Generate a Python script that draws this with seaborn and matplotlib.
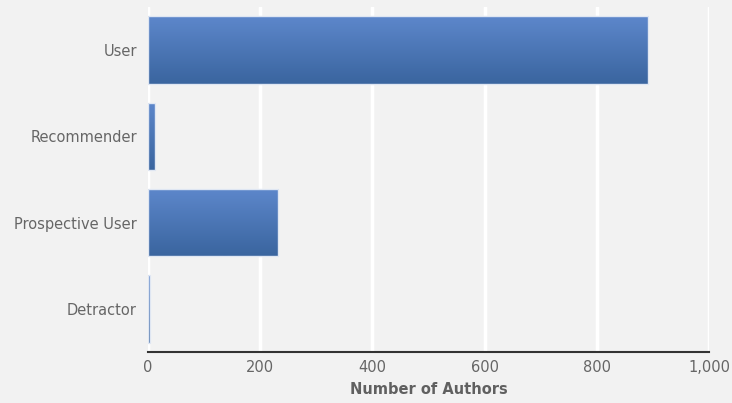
import numpy as np
import pandas as pd
import seaborn as sns
import matplotlib.pyplot as plt
from matplotlib.ticker import FuncFormatter
from matplotlib.colors import LinearSegmentedColormap

# values
categories = ["User", "Recommender", "Prospective User", "Detractor"]
authors = [892, 12, 232, 3]

df = pd.DataFrame({"category": categories, "authors": authors})

sns.set_style("whitegrid")
plt.rcParams['font.family'] = ['DejaVu Sans']

fig = plt.figure(figsize=(7.32, 4.03), dpi=100, facecolor="#f2f2f2")
ax = fig.add_axes([148 / 732, 1 - 352 / 403, (709 - 148) / 732, (352 - 7) / 403])
ax.set_facecolor("#f2f2f2")

sns.barplot(data=df, x="authors", y="category", orient="h", color="#4a74b4",
            width=0.78, edgecolor="white", linewidth=1, ax=ax)

# vertical gradient on each bar, clipped to the bar shape
grad = LinearSegmentedColormap.from_list("bar", ["#5d87cb", "#3a659f"])
for p in ax.patches:
    x0, y0 = p.get_x(), p.get_y()
    w, h = p.get_width(), p.get_height()
    im = ax.imshow(np.linspace(0, 1, 64).reshape(-1, 1), cmap=grad, aspect="auto",
                   extent=[x0, x0 + w, y0 + h, y0], origin="upper", zorder=p.get_zorder() + 0.1)
    im.set_clip_path(p)
    ax.add_patch(plt.Rectangle((x0, y0), w, h, fill=False, edgecolor="#dfe6f2",
                               linewidth=1, zorder=p.get_zorder() + 0.2))

ax.set_xlim(0, 1000)
ax.set_ylim(3.5, -0.5)
ax.set_xticks([0, 200, 400, 600, 800, 1000])
ax.xaxis.set_major_formatter(FuncFormatter(lambda v, _: f"{int(v):,}"))
ax.grid(axis="x", color="white", linewidth=2.5)
ax.grid(axis="y", visible=False)
ax.set_axisbelow(True)
for s in ["top", "right", "left"]:
    ax.spines[s].set_visible(False)
ax.spines["bottom"].set_color("#333333")
ax.spines["bottom"].set_linewidth(1.5)

ax.tick_params(axis="y", colors="#666666", labelsize=10.5, length=0, pad=8)
ax.tick_params(axis="x", colors="#666666", labelsize=10.5, length=0, pad=6)
ax.set_ylabel("")
ax.set_xlabel("Number of Authors", fontsize=10.5, fontweight="bold", color="#606060", labelpad=5)

fig.savefig("out.png", dpi=100, facecolor=fig.get_facecolor())
